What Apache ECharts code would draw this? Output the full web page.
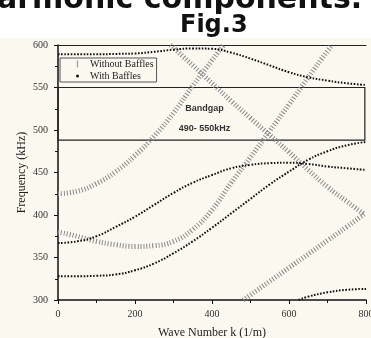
<!DOCTYPE html>
<html>
<head>
<meta charset="utf-8">
<script src="https://cdn.jsdelivr.net/npm/echarts@6/dist/echarts.min.js"></script>
<style>
  html, body { margin: 0; padding: 0; background: #fff; }
  #chart { width: 371px; height: 338px; }
</style>
</head>
<body>
<div id="chart"></div>
<script>
// [k (1/m), frequency (kHz)]
const withBaffles1 = [[0,589],[50,589],[100,589],[150,589.5],[200,590],[250,592],[300,594.5],[350,596],[400,595.5],[450,591],[500,584],[550,576],[600,568],[650,562],[700,558],[750,555],[800,553]]
const withBaffles2 = [[0,367],[50,369],[100,375],[150,386],[200,398],[250,412],[300,426],[350,438],[400,447],[450,455],[500,459],[550,461],[600,461.5],[650,460],[700,457],[750,455],[800,453]]
const withBaffles3 = [[0,328],[50,328],[100,328.5],[150,330],[200,335],[250,343],[300,355],[350,369],[400,385],[450,402],[500,419],[550,436],[600,451],[650,465],[700,475],[750,482],[800,486]]
const withBaffles4 = [[625,300],[650,304],[700,309],[750,312],[800,313]]

const withoutBaffles1 = [[0,425],[50,428],[100,437],[150,451],[200,470],[250,493],[300,520],[350,552],[400,582],[430,600]]
const withoutBaffles2 = [[292,600],[350,576],[400,555],[450,534],[500,514],[550,494],[600,474],[650,453],[700,433],[750,416],[795,401]]
const withoutBaffles3 = [[481,300],[500,306],[550,322],[600,338],[650,354],[700,370],[750,386],[795,401]]
const withoutBaffles4 = [[0,380],[50,375],[100,369],[150,365],[200,363],[250,364],[300,369],[350,383],[400,406],[450,438],[500,468],[550,499],[600,530],[650,562],[700,593],[712,600]]

const bandgap = [488, 550]
const xTicks = [0, 200, 400, 600, 800]
const yTicks = [300, 350, 400, 450, 500, 550, 600]

const chart = echarts.init(document.getElementById("chart"))

const serif = "Liberation Serif"

function dotted(data) {
  return {
    name: "With Baffles",
    type: "line",
    data: data,
    smooth: true,
    showSymbol: false,
    lineStyle: { color: "#111", width: 2, type: [1.6, 1.6] },
    itemStyle: { color: "#111" },
    z: 3,
  }
}

function ticked(data) {
  return {
    name: "Without Baffles",
    type: "line",
    data: data,
    smooth: true,
    showSymbol: false,
    lineStyle: { color: "#888", width: 5, type: [1, 2] },
    itemStyle: { color: "#999" },
    z: 2,
  }
}

const series = [
  ticked(withoutBaffles1),
  ticked(withoutBaffles2),
  ticked(withoutBaffles3),
  ticked(withoutBaffles4),
  dotted(withBaffles1),
  dotted(withBaffles2),
  dotted(withBaffles3),
  dotted(withBaffles4),
]

// bandgap box
series.push({
  type: "line",
  data: [],
  markArea: {
    silent: true,
    itemStyle: { color: "transparent", borderColor: "#222", borderWidth: 1.2 },
    label: {
      position: "inside",
      offset: [-7, 5],
      formatter: "{a|Bandgap}\n{a|490- 550kHz}",
      rich: {
        a: { fontFamily: "Liberation Sans", fontWeight: "bold", fontSize: 9, color: "#333", lineHeight: 20 },
      },
    },
    data: [[{ xAxis: 0, yAxis: bandgap[1] }, { xAxis: 797, yAxis: bandgap[0] }]],
  },
})

const option = {
  backgroundColor: "#fff",
  animation: false,
  graphic: [
    { type: "rect", z: -10, shape: { x: 0, y: 38, width: 371, height: 300 }, style: { fill: "#fbf8f0" } },
    {
      type: "text", left: -3, top: -15,
      style: { text: "armonic components.", font: "bold 30px 'DejaVu Sans'", fill: "#111" },
    },
    {
      type: "text", left: 180, top: 14,
      style: { text: "Fig.3", font: "bold 24px 'DejaVu Sans'", fill: "#111" },
    },
  ],
  legend: {
    left: 60,
    top: 58,
    orient: "vertical",
    itemGap: 2,
    itemWidth: 3,
    itemHeight: 7,
    borderColor: "#555",
    borderWidth: 1,
    borderRadius: 0,
    padding: [1, 3, 1, 16],
    lineStyle: { opacity: 0 },
    textStyle: { fontFamily: serif, fontSize: 10, color: "#222", padding: [0, 0, 0, 6] },
    data: [
      { name: "Without Baffles", icon: "path://M0,0h1v6h-1z", itemStyle: { color: "#999" } },
      { name: "With Baffles", icon: "circle", itemStyle: { color: "#111" } },
    ],
  },
  grid: { left: 58, right: 5, top: 45, bottom: 38, outerBoundsMode: "none" },
  xAxis: [
    {
      type: "value",
      min: xTicks[0],
      max: xTicks[xTicks.length - 1],
      interval: 200,
      name: "Wave Number k (1/m)",
      nameLocation: "middle",
      nameGap: 27,
      nameTextStyle: { fontFamily: serif, fontSize: 12, color: "#222" },
      axisLine: { lineStyle: { color: "#111", width: 1.5 } },
      axisTick: { length: 4, lineStyle: { color: "#111" } },
      minorTick: { show: true, splitNumber: 2, length: 3, lineStyle: { color: "#111" } },
      axisLabel: { fontFamily: serif, fontSize: 10, color: "#333", margin: 9 },
      splitLine: { show: false },
    },
    {
      type: "value",
      position: "top",
      min: 0,
      max: 800,
      axisLine: { show: true, lineStyle: { color: "#222", width: 1.2 } },
      axisTick: { show: false },
      axisLabel: { show: false },
      splitLine: { show: false },
    },
  ],
  yAxis: {
    type: "value",
    min: yTicks[0],
    max: yTicks[yTicks.length - 1],
    interval: 50,
    name: "Frequency (kHz)",
    nameLocation: "middle",
    nameGap: 30,
    nameMoveOverlap: false,
    nameTextStyle: { fontFamily: serif, fontSize: 12, color: "#222" },
    axisLine: { show: true, lineStyle: { color: "#111", width: 1.5 } },
    axisTick: { show: true, length: 4, lineStyle: { color: "#111" } },
    minorTick: { show: true, splitNumber: 2, length: 3, lineStyle: { color: "#111" } },
    axisLabel: { fontFamily: serif, fontSize: 10, color: "#333", margin: 10 },
    splitLine: { show: false },
  },
  series: series,
}

chart.setOption(option)
</script>
</body>
</html>
